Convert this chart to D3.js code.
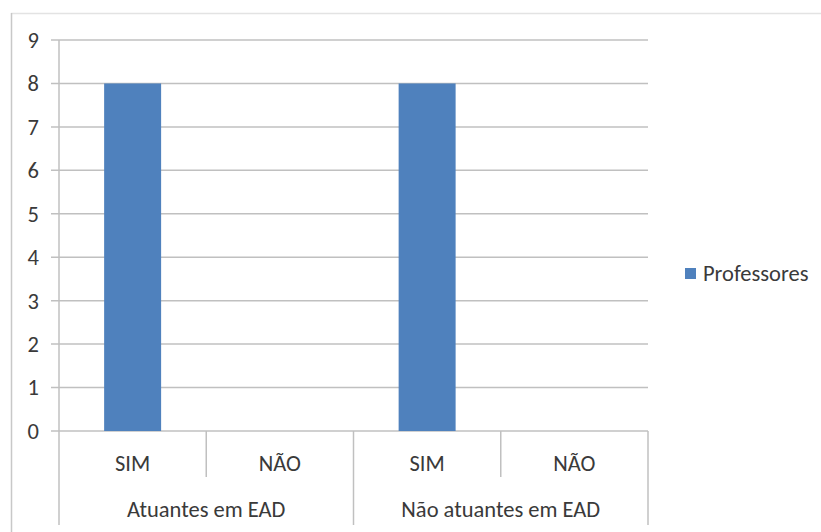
<!DOCTYPE html>
<html>
<head>
<meta charset="utf-8">
<script src="https://cdn.jsdelivr.net/npm/d3@7"></script>
<style>
  html, body { margin: 0; padding: 0; background: #fff; }
  svg { display: block; }
  text { font-family: Carlito, Lato, "Open Sans", "Liberation Sans", sans-serif; fill: #3a3a3a; }
</style>
</head>
<body>
<svg id="chart" width="821" height="532"></svg>
<script>
// Chart data
const groups = ["Atuantes em EAD", "Não atuantes em EAD"];
const answers = ["SIM", "NÃO"];
const seriesName = "Professores";
const professores = [8, 0, 8, 0];   // SIM/NÃO for each group, in order
const yTicks = [0, 1, 2, 3, 4, 5, 6, 7, 8, 9];

const svg = d3.select("#chart");
const W = 821, H = 532;
const fontSize = 22.5;

// Plot area
const plot = { left: 59, right: 648, top: 40, bottom: 431 };
const leafTickBottom = 477, groupTickBottom = 525;

// Outer chart frame (top and left edges visible)
svg.append("line").attr("x1", 11).attr("x2", W).attr("y1", 13.5).attr("y2", 13.5)
  .attr("stroke", "#e3e3e3").attr("stroke-width", 1.5);
svg.append("line").attr("x1", 11.5).attr("x2", 11.5).attr("y1", 13).attr("y2", H)
  .attr("stroke", "#c8c8c8").attr("stroke-width", 1.5);

// Leaf categories (group × answer)
const leaves = [];
groups.forEach((g, gi) => answers.forEach((a, ai) => leaves.push({ group: g, answer: a, value: professores[gi * answers.length + ai], key: g + "|" + a })));

const x = d3.scaleBand()
  .domain(leaves.map(d => d.key))
  .range([plot.left, plot.right])
  .paddingInner(0.613)
  .paddingOuter(0.3065);
const step = x.step();

const y = d3.scaleLinear().domain([0, 9]).range([plot.bottom, plot.top]);

// Gridlines with left tick marks
svg.append("g").selectAll("line").data(yTicks).join("line")
  .attr("x1", plot.left - 8).attr("x2", plot.right)
  .attr("y1", d => y(d)).attr("y2", d => y(d))
  .attr("stroke", "#c0c0c0").attr("stroke-width", 1.5);

// Y axis labels
svg.append("g").selectAll("text").data(yTicks).join("text")
  .attr("x", 39).attr("y", d => y(d)).attr("dy", "0.35em")
  .attr("text-anchor", "end").attr("font-size", fontSize)
  .text(d => d);

// Bars
svg.append("g").selectAll("rect").data(leaves.filter(d => d.value > 0)).join("rect")
  .attr("x", d => x(d.key)).attr("width", x.bandwidth())
  .attr("y", d => y(d.value)).attr("height", d => y(0) - y(d.value))
  .attr("fill", "#4F81BD");

// Value axis line
svg.append("line").attr("x1", plot.left).attr("x2", plot.left)
  .attr("y1", plot.top).attr("y2", groupTickBottom)
  .attr("stroke", "#c0c0c0").attr("stroke-width", 1.5);

// Category axis: leaf separators and group separators
const bounds = d3.range(1, leaves.length + 1).map(i => plot.left + i * step);
svg.append("g").selectAll("line").data(bounds).join("line")
  .attr("x1", d => d).attr("x2", d => d)
  .attr("y1", plot.bottom)
  .attr("y2", (d, i) => ((i + 1) % answers.length === 0) ? groupTickBottom : leafTickBottom)
  .attr("stroke", "#c0c0c0").attr("stroke-width", 1.5);

// Leaf labels
svg.append("g").selectAll("text").data(leaves).join("text")
  .attr("x", d => x(d.key) + x.bandwidth() / 2)
  .attr("y", 463).attr("dy", "0.35em")
  .attr("text-anchor", "middle").attr("font-size", fontSize)
  .text(d => d.answer);

// Group labels
svg.append("g").selectAll("text").data(groups).join("text")
  .attr("x", (g, gi) => plot.left + step * answers.length * (gi + 0.5))
  .attr("y", 509).attr("dy", "0.35em")
  .attr("text-anchor", "middle").attr("font-size", fontSize)
  .text(d => d);

// Legend
const lg = svg.append("g").attr("transform", "translate(685,268)");
lg.append("rect").attr("width", 11).attr("height", 11).attr("fill", "#4F81BD");
lg.append("text").attr("x", 18).attr("y", 5.5).attr("dy", "0.35em")
  .attr("font-size", fontSize).text(seriesName);
</script>
</body>
</html>
